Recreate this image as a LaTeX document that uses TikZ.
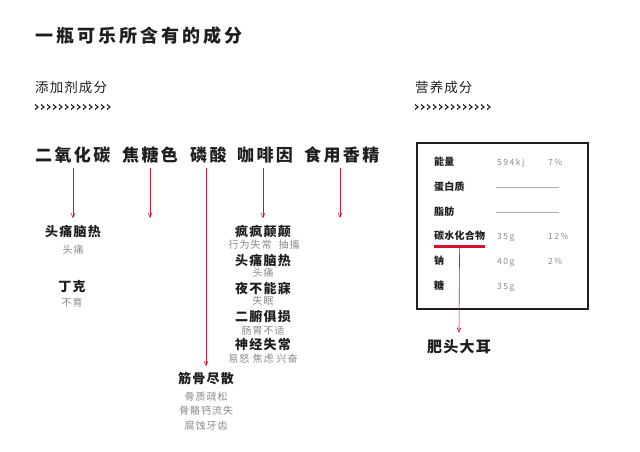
\documentclass[tikz,border=0pt]{standalone}
\usepackage{fontspec}
\setmainfont{Noto Sans CJK SC}
\usepackage{tikz}
\usetikzlibrary{arrows}
\definecolor{colared}{HTML}{D2142F}
\definecolor{ink}{HTML}{1E1E1E}
\definecolor{mute}{HTML}{8A8A8A}
\newcommand{\fsz}[2]{\fontsize{#1pt}{#1pt}\selectfont\addfontfeature{LetterSpace=#2}}
\tikzstyle{ttl}=[inner sep=0pt,text=ink,font=\bfseries\fsz{18}{17},text height=15.8pt,text depth=2.2pt]
\tikzstyle{sect}=[inner sep=0pt,text=ink,font=\fsz{13.5}{8},text height=11.9pt,text depth=1.6pt]
\tikzstyle{agent}=[inner sep=0pt,text=ink,font=\bfseries\fsz{17}{14},text height=15pt,text depth=2pt]
\tikzstyle{fx}=[inner sep=0pt,text=ink,font=\bfseries\fsz{13}{10},text height=11.4pt,text depth=1.6pt]
\tikzstyle{sym}=[inner sep=0pt,text=mute,font=\fsz{10}{10},text height=8.8pt,text depth=1.2pt]
\tikzstyle{item}=[inner sep=0pt,anchor=west,text=ink,font=\bfseries\fsz{10}{2},text height=8.8pt,text depth=1.2pt]
\tikzstyle{val}=[inner sep=0pt,anchor=west,text=mute,font=\fsz{8.5}{18},text height=7.5pt,text depth=1pt]
\tikzstyle{harm}=[->,>=angle 45,draw=colared,semithick]

\begin{document}
\begin{tikzpicture}[x=1pt,y=-1pt]
\useasboundingbox (0,0) rectangle (640,452);
\node[ttl,anchor=west] (title) at (35,36) {一瓶可乐所含有的成分};
\node[sect,anchor=west] (addhead) at (35,87) {添加剂成分};
\node[sect,anchor=west] (nuthead) at (415,87) {营养成分};
\foreach \x in {35,415}
  \foreach \i in {0,...,12}
    \draw[ink,line width=1.1pt] (\x+6*\i,104.5) -- ++(3,2.5) -- ++(-3,2.5);

% additives
\node[agent,anchor=west] (co2) at (35,155) {二氧化碳};
\node[agent,anchor=west] (caramel) at (122,155) {焦糖色};
\node[agent,anchor=west] (phos) at (190,155) {磷酸};
\node[agent,anchor=west] (caffeine) at (237,155) {咖啡因};
\node[agent,anchor=west] (flavor) at (304,155) {食用香精};

% effects
\node[fx] (ache1) at (73,232) {头痛脑热};
\node[sym] (ache1 note) at (73,250) {头痛};
\node[fx] (dink) at (72,287) {丁克};
\node[sym] (dink note) at (72,303) {不育};

\node[fx] (madness) at (263,232) {疯疯颠颠};
\node[sym] (madness note) at (264,245) {行为失常\hspace{7pt}抽搐};
\node[fx] (ache2) at (263,261) {头痛脑热};
\node[sym] (ache2 note) at (263,273) {头痛};
\node[fx] (insomnia) at (263,289) {夜不能寐};
\node[sym] (insomnia note) at (263,301) {失眠};
\node[fx] (organs) at (263,317) {二腑俱损};
\node[sym] (organs note) at (263,331) {肠胃不适};
\node[fx] (nerves) at (263,345) {神经失常};
\node[sym] (nerves note) at (263,359) {易怒 焦虑 兴奋};

\node[fx] (bones) at (206,379) {筋骨尽散};
\node[sym] (bones note1) at (206,397) {骨质疏松};
\node[sym] (bones note2) at (206,411) {骨骼钙流失};
\node[sym] (bones note3) at (206,426) {腐蚀牙齿};

\coordinate (caramel end) at (150,218);
\coordinate (flavor end) at (340,218);
\draw[harm] (ache1.north |- co2.south) ++(0,4) -- ([yshift=7pt]ache1.north);
\draw[harm] (caramel end |- caramel.south) ++(0,4) -- (caramel end);
\draw[harm] (bones.north |- phos.south) ++(0,4) -- ([yshift=6pt]bones.north);
\draw[harm] (madness.north |- caffeine.south) ++(0,4) -- ([yshift=7pt]madness.north);
\draw[harm] (flavor end |- flavor.south) ++(0,4) -- (flavor end);

% nutrition table
\draw[ink,line width=2pt] (417,143) rectangle (588,309);
\node[item] (energy) at (434,162) {能量};
\node[item] (protein) at (434,187) {蛋白质};
\node[item] (fat) at (434,212) {脂肪};
\node[item] (carb) at (434,236) {碳水化合物};
\node[item] (sodium) at (434,261) {钠};
\node[item] (sugar) at (434,286) {糖};
\node[val] (energy amt) at (497,162) {594kj};
\node[val] (energy pct) at (548,162) {7\%};
\node[val] (carb amt) at (497,236) {35g};
\node[val] (carb pct) at (548,236) {12\%};
\node[val] (sodium amt) at (497,261) {40g};
\node[val] (sodium pct) at (548,261) {2\%};
\node[val] (sugar amt) at (497,286) {35g};
\draw[mute!70,thin] (496,187) -- (559,187);
\draw[mute!70,thin] (496,212) -- (559,212);
\draw[colared,line width=3pt] ([yshift=-5pt]carb.south west) -- ([yshift=-5pt]carb.south east);

\node[inner sep=0pt,text=ink,font=\bfseries\fsz{15}{8},text height=13.2pt,text depth=1.8pt] (obese) at (459,347) {肥头大耳};
\draw[harm] ([yshift=-5pt]carb.south) -- ([yshift=6.5pt]obese.north);
\end{tikzpicture}
\end{document}
